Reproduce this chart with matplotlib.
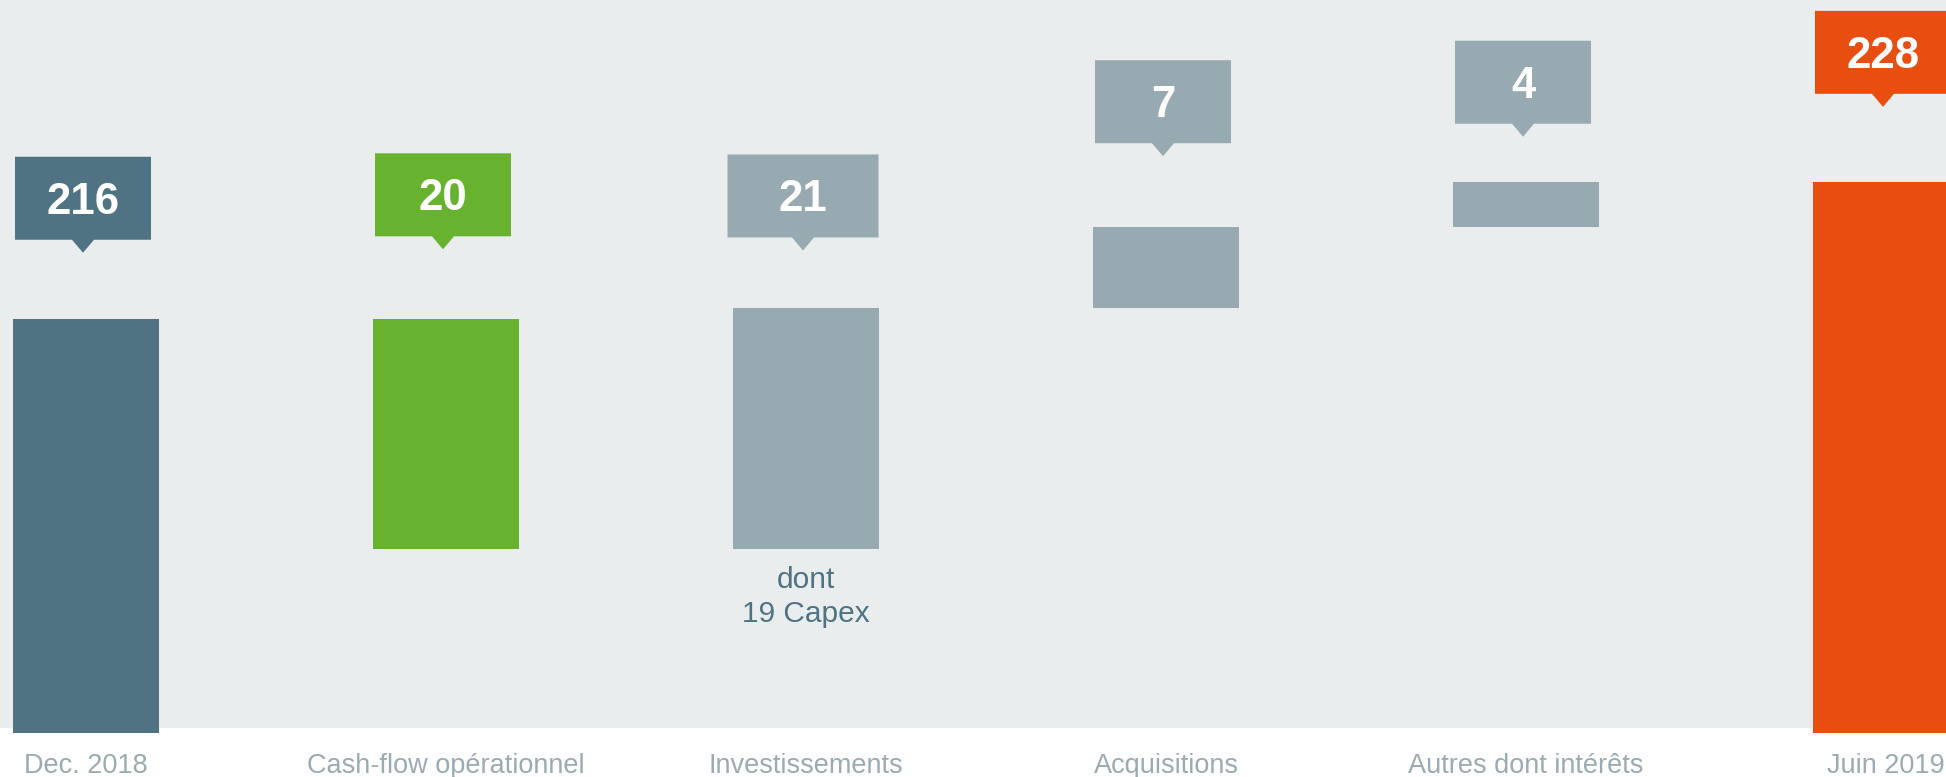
import matplotlib.pyplot as plt
import matplotlib.transforms as mtrans
from matplotlib.patches import Polygon, Rectangle

plt.rcParams['font.family'] = ['Liberation Sans', 'DejaVu Sans']

# data
categories = ["Dec. 2018", "Cash-flow opérationnel", "Investissements",
              "Acquisitions", "Autres dont intérêts", "Juin 2019"]
values = [216, -20, 21, 7, 4, 228]
is_total = [True, False, False, False, False, True]
labels = ["216", "20", "21", "7", "4", "228"]
note = "dont\n19 Capex"

# layout / style
colors = ["#507383", "#67B32F", "#97AAB1", "#97AAB1", "#97AAB1", "#E84E10"]
tip_y = [221.8, 222.1, 222.0, 230.2, 231.9, 234.5]   # callout tip height (data units)
box_w = [136, 136, 151, 136, 136, 136]               # callout width in px
bg = "#E9EDEE"
W, H = 1946, 777

fig = plt.figure(figsize=(W / 100, H / 100), dpi=100)
fig.patches.append(Rectangle((0, 49 / H), 1, 728 / H, transform=fig.transFigure,
                             facecolor=bg, edgecolor="none", zorder=-1))
ax = fig.add_axes([0, 44 / H, 1, 733 / H])
ax.set_facecolor("none")
ax.set_xlim(-86 / 360, (W - 86) / 360)
ax.set_ylim(180, 243.8)
ax.axis("off")

# waterfall bars
bottom_y = ax.get_ylim()[0]
running = 0
for i, v in enumerate(values):
    if is_total[i]:
        lo, hi = bottom_y, v
        running = v
    else:
        lo, hi = sorted([running, running + v])
        running = running + v
    ax.bar(i, hi - lo, bottom=lo, width=0.403, color=colors[i], zorder=2)

# px -> data
sx = (ax.get_xlim()[1] - ax.get_xlim()[0]) / W
sy = (ax.get_ylim()[1] - ax.get_ylim()[0]) / 733
bh, th, tw = 83, 13, 11

for i, lab in enumerate(labels):
    cx = i - 3 * sx
    t = tip_y[i]
    hw = box_w[i] / 2 * sx
    y0 = t + th * sy
    y1 = y0 + bh * sy
    pts = [(cx - hw, y0), (cx - tw * sx, y0), (cx, t), (cx + tw * sx, y0),
           (cx + hw, y0), (cx + hw, y1), (cx - hw, y1)]
    ax.add_patch(Polygon(pts, closed=True, facecolor=colors[i], edgecolor="none",
                         zorder=3, clip_on=False))
    ax.text(cx, (y0 + y1) / 2 - 15.5 * sy, lab, color="white", fontsize=31.5,
            fontweight="bold", ha="center", va="baseline", zorder=4)

# category labels
tr = mtrans.blended_transform_factory(ax.transData, fig.transFigure)
for i, c in enumerate(categories):
    ax.text(i, 4 / H, c, transform=tr, ha="center", va="baseline",
            fontsize=19.5, color="#9AABB2", clip_on=False)

ax.text(2, (H - 597) / H, note, transform=tr, ha="center", va="center",
        fontsize=21.5, color="#507383", linespacing=1.3)

fig.savefig("out.png", dpi=100)
